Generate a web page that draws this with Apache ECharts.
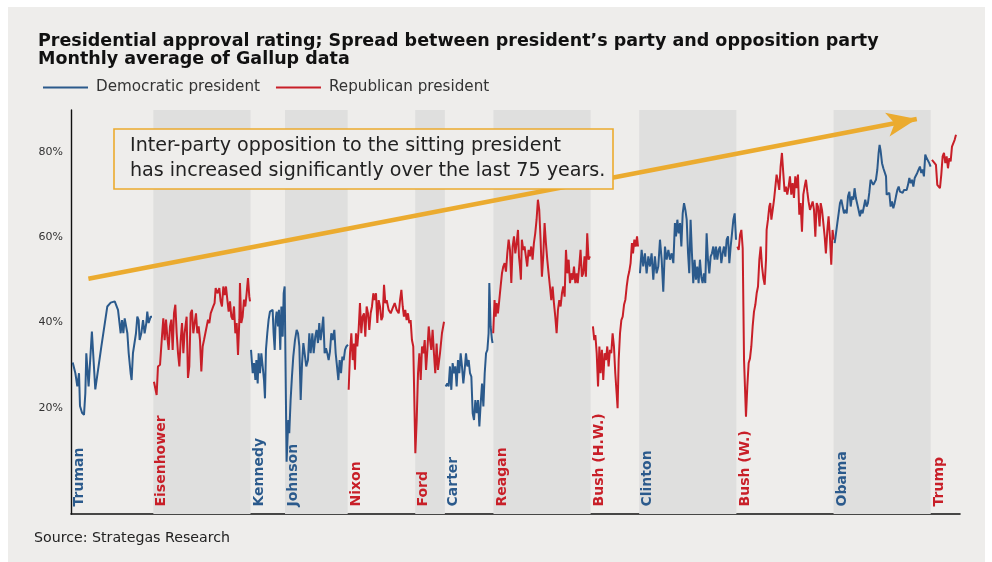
<!DOCTYPE html>
<html><head><meta charset="utf-8">
<script src="https://cdn.jsdelivr.net/npm/echarts@6/dist/echarts.min.js"></script>
<style>
html,body{margin:0;padding:0;background:#fff;width:992px;height:562px;overflow:hidden}
#panel{position:absolute;left:8px;top:7px;width:977px;height:555px;background:#EEEDEB}
#chart{position:absolute;left:0;top:0;width:992px;height:562px}
</style></head><body>
<div id="panel"></div><div id="chart"></div>
<script>
// ---- Data: [year, spread %] ----
const truman = [[1946.41,30.6],[1946.63,28.1],[1946.79,25.0],[1946.93,28.1],[1947.01,20.4],[1947.18,18.8],[1947.34,18.3],[1947.45,23.4],[1947.53,32.8],[1947.72,25.0],[1947.99,37.9],[1948.27,24.3],[1948.77,34.4],[1949.26,43.8],[1949.54,44.7],[1949.87,45.0],[1950.14,43.0],[1950.28,42.6],[1950.36,37.5],[1950.47,40.6],[1950.58,37.5],[1950.69,41.0],[1950.83,41.4],[1950.91,37.5],[1951.02,32.8],[1951.18,28.1],[1951.26,26.5],[1951.37,32.8],[1951.51,33.2],[1951.62,37.5],[1951.73,41.4],[1951.84,40.6],[1951.92,35.9],[1952.06,37.5],[1952.20,40.6],[1952.33,37.5],[1952.47,39.9],[1952.55,42.6],[1952.66,39.9],[1952.83,41.4],[1952.94,41.4]];
const eisenhower = [[1953.10,26.1],[1953.32,23.0],[1953.43,29.7],[1953.60,30.1],[1953.76,36.7],[1953.87,41.0],[1953.98,35.9],[1954.09,40.7],[1954.20,36.7],[1954.31,33.6],[1954.42,39.1],[1954.53,40.7],[1954.64,33.6],[1954.75,42.2],[1954.86,44.2],[1954.97,37.5],[1955.08,32.8],[1955.19,29.7],[1955.30,35.9],[1955.41,39.9],[1955.52,32.8],[1955.62,37.5],[1955.79,41.4],[1955.90,27.0],[1956.01,29.7],[1956.12,42.2],[1956.23,43.0],[1956.34,37.5],[1956.45,39.9],[1956.56,42.2],[1956.67,37.5],[1956.78,39.1],[1956.89,35.9],[1957.00,28.5],[1957.11,34.4],[1957.22,35.9],[1957.33,37.5],[1957.44,39.1],[1957.55,40.7],[1957.66,39.9],[1957.77,42.2],[1957.88,42.2],[1957.98,43.8],[1958.09,44.6],[1958.18,48.1],[1958.34,46.9],[1958.48,48.1],[1958.59,45.0],[1958.70,43.8],[1958.81,48.5],[1958.92,46.5],[1959.03,48.5],[1959.14,45.4],[1959.25,42.6],[1959.36,45.0],[1959.47,41.4],[1959.58,40.7],[1959.69,43.8],[1959.80,37.5],[1959.91,39.9],[1960.02,32.4],[1960.13,40.7],[1960.18,49.3],[1960.29,39.9],[1960.40,41.4],[1960.51,45.4],[1960.62,43.8],[1960.73,46.9],[1960.84,50.5],[1960.95,46.1],[1961.01,45.0]];
const kennedy = [[1961.09,33.6],[1961.23,28.1],[1961.34,30.5],[1961.45,26.5],[1961.53,31.2],[1961.64,25.7],[1961.72,32.8],[1961.83,28.1],[1961.94,32.8],[1962.05,29.7],[1962.16,26.5],[1962.24,22.2],[1962.32,33.6],[1962.43,37.5],[1962.54,40.7],[1962.65,42.6],[1962.76,43.0],[1962.87,43.0],[1962.95,37.5],[1963.04,33.6],[1963.12,40.7],[1963.20,42.6],[1963.31,39.1],[1963.39,43.0],[1963.50,33.6],[1963.59,43.8],[1963.70,36.7],[1963.78,46.9],[1963.86,48.5]];
const johnson = [[1964.02,7.3],[1964.16,17.1],[1964.24,14.0],[1964.35,21.8],[1964.46,27.3],[1964.57,32.0],[1964.71,35.9],[1964.85,38.3],[1964.96,37.5],[1965.07,34.4],[1965.18,21.8],[1965.29,30.4],[1965.40,35.2],[1965.53,35.2],[1965.64,29.7],[1965.78,31.2],[1965.89,37.5],[1966.00,32.8],[1966.14,37.5],[1966.25,32.8],[1966.38,36.7],[1966.49,38.3],[1966.60,35.2],[1966.71,39.9],[1966.82,35.9],[1966.93,38.3],[1967.04,41.4],[1967.15,32.8],[1967.26,34.0],[1967.37,32.8],[1967.48,31.2],[1967.59,33.2],[1967.70,37.5],[1967.81,35.9],[1967.95,38.3],[1968.06,32.8],[1968.17,29.7],[1968.28,26.5],[1968.39,31.2],[1968.50,28.1],[1968.61,32.0],[1968.72,31.2],[1968.83,33.6],[1968.94,34.4],[1969.07,34.8]];
const nixon = [[1969.13,24.2],[1969.24,32.8],[1969.35,37.5],[1969.46,31.2],[1969.57,35.1],[1969.65,28.9],[1969.73,37.5],[1969.84,34.4],[1969.95,38.3],[1970.06,44.6],[1970.17,37.5],[1970.28,41.4],[1970.39,42.2],[1970.50,36.7],[1970.61,43.8],[1970.72,42.2],[1970.83,38.3],[1970.94,42.2],[1971.05,43.8],[1971.16,46.9],[1971.27,45.3],[1971.38,46.9],[1971.49,39.9],[1971.60,45.3],[1971.71,43.8],[1971.82,40.6],[1971.93,41.4],[1972.04,48.9],[1972.15,44.6],[1972.26,45.3],[1972.42,43.0],[1972.59,42.2],[1972.75,43.4],[1972.92,44.6],[1973.08,43.0],[1973.25,42.2],[1973.36,45.3],[1973.47,47.7],[1973.58,43.8],[1973.68,41.4],[1973.79,43.0],[1973.90,40.6],[1974.01,42.2],[1974.12,39.9],[1974.23,40.6],[1974.34,35.9],[1974.45,34.4]];
const ford = [[1974.62,9.3],[1974.73,17.1],[1974.84,28.1],[1974.95,32.8],[1975.06,26.5],[1975.17,34.4],[1975.28,32.8],[1975.39,35.9],[1975.50,28.9],[1975.61,33.6],[1975.72,39.1],[1975.83,35.9],[1975.93,33.6],[1976.04,38.3],[1976.15,32.8],[1976.26,28.1],[1976.37,35.1],[1976.48,28.9],[1976.65,32.8],[1976.81,37.5],[1976.98,40.2]];
const carter = [[1977.11,25.0],[1977.25,25.7],[1977.36,25.0],[1977.47,29.7],[1977.58,24.2],[1977.69,30.5],[1977.80,28.1],[1977.91,29.7],[1978.02,25.0],[1978.13,31.2],[1978.24,28.1],[1978.35,32.8],[1978.46,29.7],[1978.57,25.7],[1978.68,28.9],[1978.79,32.8],[1978.90,29.7],[1979.01,31.2],[1979.12,28.1],[1979.23,27.3],[1979.34,18.7],[1979.45,17.1],[1979.56,21.8],[1979.67,18.7],[1979.78,21.8],[1979.89,15.6],[1980.00,21.0],[1980.11,25.7],[1980.22,20.3],[1980.33,28.1],[1980.44,32.8],[1980.55,33.6],[1980.65,37.5],[1980.71,49.3],[1980.82,39.1],[1980.93,35.9],[1980.98,35.2]];
const reagan = [[1981.03,37.5],[1981.14,45.3],[1981.23,41.4],[1981.31,44.6],[1981.42,42.2],[1981.53,45.3],[1981.64,48.5],[1981.75,51.6],[1981.86,53.2],[1981.97,54.0],[1982.08,52.0],[1982.19,56.3],[1982.30,59.5],[1982.41,57.1],[1982.52,49.3],[1982.63,57.9],[1982.74,60.3],[1982.85,56.3],[1982.96,58.7],[1983.07,61.8],[1983.15,55.6],[1983.23,53.2],[1983.31,50.1],[1983.39,59.5],[1983.50,57.1],[1983.61,57.9],[1983.72,55.6],[1983.83,53.2],[1983.94,57.1],[1984.05,55.6],[1984.16,57.9],[1984.27,54.8],[1984.38,58.7],[1984.49,61.0],[1984.60,64.2],[1984.71,68.9],[1984.82,66.5],[1984.93,59.5],[1985.04,50.8],[1985.15,55.6],[1985.26,63.4],[1985.37,58.7],[1985.48,54.8],[1985.59,51.6],[1985.70,48.5],[1985.81,45.3],[1985.92,48.5],[1986.03,44.6],[1986.14,41.4],[1986.25,37.5],[1986.36,43.0],[1986.47,45.3],[1986.58,43.8],[1986.69,46.9],[1986.80,48.5],[1986.91,46.1],[1987.02,57.1],[1987.13,51.6],[1987.24,54.8],[1987.35,49.3],[1987.46,51.6],[1987.57,50.1],[1987.68,53.2],[1987.79,49.3],[1987.90,51.6],[1987.99,49.3],[1988.11,53.2],[1988.22,57.1],[1988.33,50.8],[1988.44,51.6],[1988.55,55.6],[1988.66,50.8],[1988.77,61.0],[1988.88,54.8],[1988.99,55.6]];
const bushHW = [[1989.24,39.1],[1989.35,35.9],[1989.44,37.1],[1989.55,32.8],[1989.66,25.0],[1989.77,34.4],[1989.87,28.1],[1989.98,33.6],[1990.09,26.5],[1990.20,32.8],[1990.31,31.2],[1990.42,34.4],[1990.53,29.7],[1990.64,33.6],[1990.75,32.8],[1990.86,37.5],[1990.97,34.4],[1991.08,28.1],[1991.19,23.4],[1991.27,19.9],[1991.36,31.2],[1991.47,37.5],[1991.58,40.6],[1991.69,41.4],[1991.80,44.2],[1991.91,45.4],[1992.02,48.5],[1992.13,50.8],[1992.23,52.0],[1992.34,54.0],[1992.45,58.7],[1992.54,56.3],[1992.65,59.5],[1992.76,57.9],[1992.87,60.3],[1992.95,57.9]];
const clinton = [[1993.11,51.6],[1993.25,57.1],[1993.38,53.2],[1993.52,56.3],[1993.66,51.6],[1993.80,55.6],[1993.93,53.2],[1994.07,56.3],[1994.21,50.1],[1994.34,55.6],[1994.48,51.6],[1994.62,53.2],[1994.76,59.5],[1994.90,54.8],[1995.03,47.3],[1995.17,57.9],[1995.31,54.8],[1995.45,57.1],[1995.58,54.8],[1995.72,56.3],[1995.86,54.0],[1995.99,63.4],[1996.08,60.3],[1996.19,64.2],[1996.30,61.0],[1996.41,63.4],[1996.52,57.9],[1996.63,65.7],[1996.74,68.1],[1996.85,66.5],[1996.96,64.2],[1997.07,56.3],[1997.17,51.6],[1997.28,64.2],[1997.39,56.3],[1997.50,49.3],[1997.61,54.8],[1997.72,50.1],[1997.83,53.2],[1997.94,49.3],[1998.05,54.8],[1998.16,50.8],[1998.27,49.3],[1998.38,51.6],[1998.49,49.3],[1998.60,61.0],[1998.71,54.8],[1998.82,51.6],[1998.93,55.5],[1999.04,56.3],[1999.15,57.9],[1999.26,54.8],[1999.37,57.9],[1999.48,54.8],[1999.59,57.1],[1999.70,57.9],[1999.81,54.0],[1999.92,56.3],[2000.03,57.9],[2000.14,55.5],[2000.25,59.5],[2000.36,60.3],[2000.47,54.0],[2000.58,57.9],[2000.69,61.0],[2000.80,64.2],[2000.91,65.7],[2001.02,59.5]];
const bushW = [[2001.13,57.9],[2001.24,57.1],[2001.35,60.6],[2001.46,61.8],[2001.57,57.5],[2001.68,31.2],[2001.84,17.9],[2001.95,25.0],[2002.06,30.5],[2002.17,31.6],[2002.28,34.4],[2002.39,39.1],[2002.50,42.6],[2002.61,44.2],[2002.72,46.9],[2002.83,48.5],[2002.94,54.8],[2003.05,57.9],[2003.16,53.2],[2003.27,50.5],[2003.38,48.9],[2003.49,54.8],[2003.54,61.8],[2003.65,64.2],[2003.76,67.3],[2003.84,68.1],[2003.93,64.2],[2004.04,66.5],[2004.15,68.9],[2004.26,72.0],[2004.36,74.8],[2004.47,73.2],[2004.58,71.2],[2004.69,76.7],[2004.80,79.9],[2004.91,75.2],[2005.02,70.8],[2005.13,72.0],[2005.24,70.1],[2005.35,72.0],[2005.46,74.4],[2005.57,70.1],[2005.68,72.8],[2005.79,69.3],[2005.90,74.4],[2006.01,71.6],[2006.12,74.8],[2006.23,65.4],[2006.34,68.1],[2006.45,61.4],[2006.56,70.1],[2006.67,72.0],[2006.78,73.6],[2006.89,70.8],[2006.99,68.5],[2007.11,66.5],[2007.22,66.5],[2007.33,68.5],[2007.44,66.5],[2007.55,60.2],[2007.66,68.1],[2007.77,67.3],[2007.90,62.6],[2007.99,68.1],[2008.10,66.5],[2008.21,63.4],[2008.32,60.2],[2008.42,56.3],[2008.54,61.8],[2008.64,65.0],[2008.75,60.2],[2008.86,53.6],[2008.97,61.8],[2009.06,59.5]];
const obama = [[2009.14,58.7],[2009.25,61.0],[2009.36,63.4],[2009.47,65.7],[2009.58,68.1],[2009.69,68.9],[2009.80,67.3],[2009.91,65.7],[2010.02,66.5],[2010.13,65.7],[2010.24,69.7],[2010.35,70.8],[2010.46,67.3],[2010.57,69.7],[2010.68,68.9],[2010.78,71.6],[2010.89,69.3],[2011.00,68.9],[2011.11,66.5],[2011.22,65.0],[2011.33,66.5],[2011.44,65.7],[2011.55,67.3],[2011.66,68.9],[2011.77,67.3],[2011.88,68.1],[2011.99,70.5],[2012.10,73.6],[2012.21,73.2],[2012.32,72.4],[2012.43,72.0],[2012.54,73.6],[2012.65,75.9],[2012.76,79.9],[2012.84,81.8],[2012.93,80.3],[2013.04,77.5],[2013.15,76.3],[2013.26,75.9],[2013.37,74.4],[2013.42,70.1],[2013.53,70.1],[2013.64,70.5],[2013.75,67.3],[2013.86,68.5],[2013.97,66.9],[2014.08,68.1],[2014.19,69.7],[2014.30,71.2],[2014.41,72.0],[2014.52,70.8],[2014.63,71.2],[2014.74,70.5],[2014.85,71.2],[2014.96,71.6],[2015.07,71.2],[2015.18,72.4],[2015.29,74.0],[2015.40,72.8],[2015.51,73.6],[2015.62,72.0],[2015.73,74.0],[2015.84,74.4],[2015.94,75.2],[2016.05,76.0],[2016.16,76.7],[2016.27,75.2],[2016.38,76.0],[2016.49,74.4],[2016.60,79.5],[2016.71,78.7],[2016.82,78.3],[2016.93,77.5],[2017.04,76.7]];
const trump = [[2017.15,78.3],[2017.32,77.7],[2017.48,77.1],[2017.59,72.4],[2017.70,72.0],[2017.81,71.6],[2017.92,74.8],[2018.03,79.1],[2018.14,79.9],[2018.25,77.5],[2018.36,79.1],[2018.47,76.3],[2018.58,78.7],[2018.69,77.9],[2018.80,81.4],[2018.91,81.8],[2019.02,83.0],[2019.13,84.2]];

const presidents = ['Truman','Eisenhower','Kennedy','Johnson','Nixon','Ford','Carter','Reagan','Bush (H.W.)','Clinton','Bush (W.)','Obama','Trump'];
const termStarts = [1945.28,1953.05,1961.05,1963.89,1969.05,1974.61,1977.05,1981.05,1989.05,1993.05,2001.05,2009.05,2017.05];
const parties = ['D','R','D','D','R','R','D','R','R','D','R','D','R'];
const shadedTerms = [[1953.05,1961.05],[1963.89,1969.05],[1974.61,1977.05],[1981.05,1989.05],[1993.05,2001.05],[2009.05,2017.05]];
const yTickLabels = [20,40,60,80];
const trendArrow = [[1947.7,50.3],[2015.9,87.9]];
const xRange = [1946.27, 2019.46];
const yRange = [-5, 90];

// ---- Build ----
const BLUE = '#2B5A8C', RED = '#C81F28', ORANGE = '#EBAB2F', FONT = '"DejaVu Sans", sans-serif';
const GAP = (x) => [x, null];
const demData = [].concat(truman, [GAP(1957)], kennedy, johnson, [GAP(1973)], carter, [GAP(1987)], clinton, [GAP(2005)], obama);
const repData = [].concat(eisenhower, [GAP(1965)], nixon, ford, [GAP(1979)], reagan, [GAP(1989.1)], bushHW, [GAP(1997)], bushW, [GAP(2013)], trump);

const labelData = presidents.map((n, i) => ({
  name: n,
  value: [Math.max(termStarts[i], xRange[0]), yRange[0]],
  label: { color: parties[i] === 'D' ? BLUE : RED }
}));

const chart = echarts.init(document.getElementById('chart'), null, { renderer: 'canvas' });
chart.setOption({
  animation: false,
  backgroundColor: 'transparent',
  title: {
    text: 'Presidential approval rating; Spread between president\u2019s party and opposition party\nMonthly average of Gallup data',
    left: 38, top: 32, padding: 0,
    textStyle: { fontFamily: FONT, fontSize: 17.5, fontWeight: 'bold', color: '#111', lineHeight: 18 }
  },
  legend: {
    left: 43, top: 80, padding: 0,
    icon: 'rect', itemWidth: 45, itemHeight: 2, itemGap: 16,
    textStyle: { fontFamily: FONT, fontSize: 15.2, color: '#333', padding: [0, 0, 0, 3] },
    data: ['Democratic president', 'Republican president']
  },
  grid: { left: 71, right: 32, top: 110, bottom: 48 },
  xAxis: {
    type: 'value', min: xRange[0], max: xRange[1],
    axisLine: { show: true, onZero: false, lineStyle: { color: '#111', width: 1.6 } },
    axisTick: { show: false }, axisLabel: { show: false }, splitLine: { show: false }
  },
  yAxis: {
    type: 'value', min: yRange[0], max: yRange[1], interval: 5,
    axisLine: { show: true, onZero: false, lineStyle: { color: '#111', width: 1.4 } },
    axisTick: { show: false }, splitLine: { show: false },
    axisLabel: {
      fontFamily: FONT, fontSize: 11, color: '#333', margin: 8,
      formatter: (v) => yTickLabels.indexOf(v) >= 0 ? v + '%' : ''
    }
  },
  graphic: [
    { type: 'rect', z: 100, shape: { x: 114, y: 129, width: 499, height: 60 },
      style: { fill: '#EEEDEB', stroke: ORANGE, lineWidth: 1.6 } },
    { type: 'text', z: 101, x: 130, y: 134,
      style: { text: 'Inter-party opposition to the sitting president\nhas increased significantly over the last 75 years.',
        fontFamily: FONT, fontSize: 19.1, lineHeight: 25, fill: '#222', verticalAlign: 'top' } },
    { type: 'text', z: 101, x: 34, y: 538,
      style: { text: 'Source: Strategas Research', fontFamily: FONT, fontSize: 14.2, fill: '#222', verticalAlign: 'middle' } }
  ],
  series: [
    {
      type: 'line', name: 'bands', data: [], z: 1, silent: true,
      markArea: {
        silent: true, itemStyle: { color: '#DFDFDE' },
        data: shadedTerms.map(t => [{ xAxis: t[0] }, { xAxis: t[1] }])
      },
      markLine: {
        silent: true, symbol: ['none', 'arrow'],
        lineStyle: { color: ORANGE, width: 4.5, type: 'solid' },
        label: { show: false },
        data: [[{ coord: trendArrow[0], symbol: 'none' }, { coord: trendArrow[1], symbol: 'arrow', symbolSize: [18, 30] }]]
      }
    },
    {
      type: 'line', name: 'Democratic president', data: demData, z: 3,
      showSymbol: false, connectNulls: false, color: BLUE,
      lineStyle: { color: BLUE, width: 2 }
    },
    {
      type: 'line', name: 'Republican president', data: repData, z: 3,
      showSymbol: false, connectNulls: false, color: RED,
      lineStyle: { color: RED, width: 2 }
    },
    {
      type: 'scatter', name: 'labels', data: labelData, z: 4, silent: true,
      symbol: 'circle', symbolSize: 1, itemStyle: { color: 'transparent' },
      label: {
        show: true, formatter: '{b}', position: [0, 0], rotate: 90,
        align: 'left', verticalAlign: 'top', offset: [7, 2], opacity: 1,
        textBorderWidth: 0,
        fontFamily: FONT, fontSize: 14, fontWeight: 'bold'
      }
    }
  ]
});
</script>
</body></html>
